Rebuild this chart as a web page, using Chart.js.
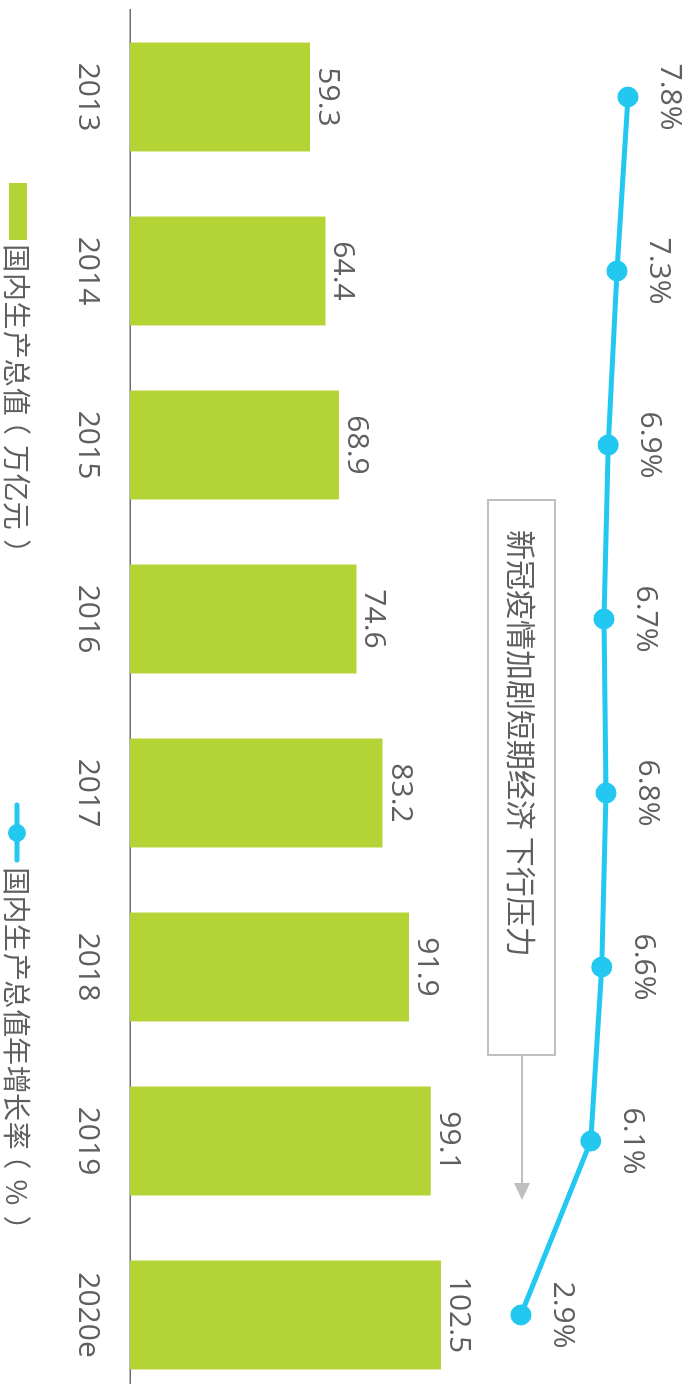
<!DOCTYPE html>
<html>
<head>
<meta charset="utf-8">
<script src="https://cdn.jsdelivr.net/npm/chart.js@4.4.1/dist/chart.umd.min.js"></script>
<style>
  html, body { margin: 0; padding: 0; background: #fff; overflow: hidden; width: 700px; height: 1384px; }
  /* the chart is drawn landscape and turned a quarter clockwise */
  #wrap { position: absolute; left: 0; top: 0; width: 1410px; height: 700px;
          transform-origin: 0 0; transform: translateX(700px) rotate(90deg); }
</style>
</head>
<body>
<div id="wrap"><canvas id="c" width="1410" height="700"></canvas></div>
<script>
const years = ['2013', '2014', '2015', '2016', '2017', '2018', '2019', '2020e'];
const gdp = [59.3, 64.4, 68.9, 74.6, 83.2, 91.9, 99.1, 102.5];
const growth = [7.8, 7.3, 6.9, 6.7, 6.8, 6.6, 6.1, 2.9];
const gdpLabel = '国内生产总值（万亿元）';
const growthLabel = '国内生产总值年增长率（%）';
const noteText = '新冠疫情加剧短期经济 下行压力';

const BAR = '#b4d334';
const LINE = '#22c8f0';
const TEXT = '#5f5f5f';
const NUM_FONT = '30px "Open Sans", "Noto Sans CJK SC", sans-serif';
const CJK_FONT = '28px "Noto Sans CJK SC", sans-serif';

// draws a CJK string one cell per character, the ink of each glyph centred in its cell
function cellText(ctx, str, x, y, cell) {
  ctx.textAlign = 'left';
  [...str].forEach((ch, i) => {
    const m = ctx.measureText(ch);
    const c = x + cell * i + cell / 2;
    ctx.fillText(ch, c - (m.actualBoundingBoxRight - m.actualBoundingBoxLeft) / 2, y);
  });
}

// value labels, callout box and legend
const extras = {
  id: 'extras',
  afterDatasetsDraw(chart) {
    const ctx = chart.ctx;
    ctx.save();
    ctx.fillStyle = TEXT;
    ctx.font = NUM_FONT;
    ctx.textAlign = 'center';
    ctx.textBaseline = 'alphabetic';
    chart.getDatasetMeta(0).data.forEach((el, i) => {
      ctx.fillText(gdp[i].toFixed(1), el.x, el.y - 9);
    });
    chart.getDatasetMeta(1).data.forEach((el, i) => {
      ctx.fillText(growth[i].toFixed(1) + '%', el.x, el.y - 33);
    });
    ctx.restore();
  },
  afterDraw(chart) {
    const ctx = chart.ctx;
    ctx.save();
    // callout
    ctx.strokeStyle = '#bfbfbf';
    ctx.fillStyle = '#bfbfbf';
    ctx.lineWidth = 2;
    ctx.strokeRect(500, 145, 555, 67);
    ctx.beginPath();
    ctx.moveTo(1056, 178);
    ctx.lineTo(1185, 178);
    ctx.stroke();
    ctx.beginPath();
    ctx.moveTo(1183, 170);
    ctx.lineTo(1200, 178);
    ctx.lineTo(1183, 186);
    ctx.closePath();
    ctx.fill();
    ctx.fillStyle = TEXT;
    ctx.font = '30px "Noto Sans CJK SC", sans-serif';
    ctx.textAlign = 'left';
    ctx.textBaseline = 'middle';
    ctx.fillText(noteText, 530, 179);

    // legend
    ctx.font = CJK_FONT;
    ctx.fillStyle = BAR;
    ctx.fillRect(183, 673, 57, 18);
    ctx.fillStyle = TEXT;
    cellText(ctx, gdpLabel, 244, 683, 28.6);
    ctx.strokeStyle = LINE;
    ctx.lineWidth = 5;
    ctx.lineCap = 'round';
    ctx.beginPath();
    ctx.moveTo(805, 683);
    ctx.lineTo(860, 683);
    ctx.stroke();
    ctx.fillStyle = LINE;
    ctx.beginPath();
    ctx.arc(833, 683, 9, 0, Math.PI * 2);
    ctx.fill();
    ctx.fillStyle = TEXT;
    cellText(ctx, growthLabel, 867, 683, 28.3);
    ctx.restore();
  }
};

new Chart(document.getElementById('c'), {
  data: {
    labels: years,
    datasets: [
      {
        type: 'bar',
        label: gdpLabel,
        data: gdp,
        backgroundColor: BAR,
        barPercentage: 0.626,
        categoryPercentage: 1,
        yAxisID: 'y',
        order: 2
      },
      {
        type: 'line',
        label: growthLabel,
        data: growth,
        borderColor: LINE,
        backgroundColor: LINE,
        borderWidth: 5,
        pointRadius: 8,
        pointHoverRadius: 8,
        tension: 0,
        yAxisID: 'y1',
        order: 1
      }
    ]
  },
  options: {
    responsive: false,
    animation: false,
    layout: { autoPadding: false, padding: { left: 10, right: 8, top: 0, bottom: 0 } },
    plugins: { legend: { display: false }, tooltip: { enabled: false } },
    scales: {
      x: {
        offset: true,
        grid: { display: false, drawTicks: false },
        border: { display: true, color: '#6f6f6f', width: 1.5 },
        ticks: { color: TEXT, font: { family: '"Open Sans", sans-serif', size: 30 }, padding: 24, maxRotation: 0 },
        afterFit(scale) { scale.height = 130; }
      },
      y: { display: false, min: 0, max: 187.8 },
      y1: { display: false, min: -15, max: 11.1 }
    }
  },
  plugins: [extras]
});
</script>
</body>
</html>
